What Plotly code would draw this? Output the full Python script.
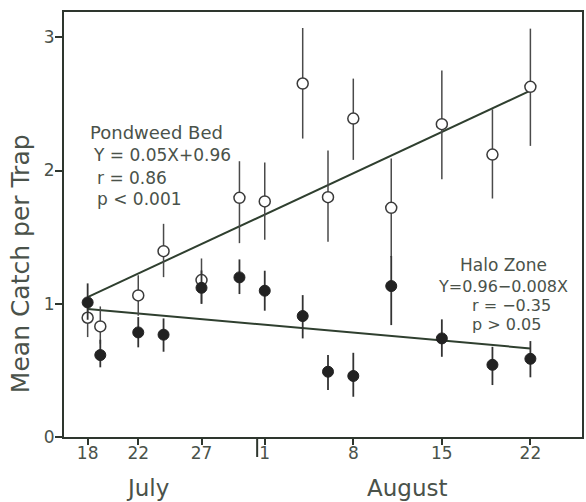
import plotly.graph_objects as go

# Days after 18 July
days = [0, 1, 4, 6, 9, 12, 14, 17, 19, 21, 24, 28, 32, 35]

# Pondweed Bed (open circles)
pond_mean = [0.895, 0.83, 1.063, 1.395, 1.178, 1.795, 1.768, 2.653, 1.80, 2.39, 1.72, 2.348, 2.12, 2.628]
pond_upper = [1.05, 0.98, 1.215, 1.60, 1.34, 2.07, 2.06, 3.07, 2.15, 2.69, 2.09, 2.75, 2.46, 3.065]
pond_lower = [0.75, 0.70, 0.91, 1.20, 1.00, 1.455, 1.48, 2.24, 1.465, 2.08, 1.35, 1.935, 1.79, 2.185]

# Halo Zone (filled circles)
halo_mean = [1.01, 0.615, 0.785, 0.768, 1.12, 1.198, 1.098, 0.908, 0.49, 0.458, 1.133, 0.74, 0.542, 0.587]
halo_upper = [1.153, 0.73, 0.90, 0.89, 1.25, 1.333, 1.248, 1.065, 0.615, 0.632, 1.358, 0.883, 0.677, 0.72]
halo_lower = [0.88, 0.523, 0.673, 0.64, 1.00, 1.073, 0.948, 0.74, 0.353, 0.302, 0.84, 0.602, 0.39, 0.448]

# Regression line endpoints
fit_x = [0, 35]
pond_fit = [1.05, 2.60]
halo_fit = [0.96, 0.665]

tick_vals = [0, 4, 9, 14, 21, 28, 35]
tick_text = ["18", "22", "27", "1", "8", "15", "22"]
month_break = 13.4

INK = "#2e362e"
TXT = "#4a524a"
FONT = "DejaVu Sans"

fig = go.Figure()

fig.add_trace(go.Scatter(
    x=fit_x, y=pond_fit, mode="lines",
    line=dict(color="#2f3f2f", width=2), showlegend=False, hoverinfo="skip"))
fig.add_trace(go.Scatter(
    x=fit_x, y=halo_fit, mode="lines",
    line=dict(color="#2f3f2f", width=2), showlegend=False, hoverinfo="skip"))

fig.add_trace(go.Scatter(
    x=days, y=pond_mean, mode="markers",
    marker=dict(symbol="circle", size=11, color="white", line=dict(color="#3a3a3a", width=1.5)),
    error_y=dict(type="data", symmetric=False,
                 array=[u - m for u, m in zip(pond_upper, pond_mean)],
                 arrayminus=[m - l for l, m in zip(pond_lower, pond_mean)],
                 color="#4a4a4a", thickness=1.5, width=0),
    showlegend=False))

fig.add_trace(go.Scatter(
    x=days, y=halo_mean, mode="markers",
    marker=dict(symbol="circle", size=11, color="#222222", line=dict(color="#222222", width=1)),
    error_y=dict(type="data", symmetric=False,
                 array=[u - m for u, m in zip(halo_upper, halo_mean)],
                 arrayminus=[m - l for l, m in zip(halo_lower, halo_mean)],
                 color="#333333", thickness=1.8, width=0),
    showlegend=False))

ann = []
def txt(x, y, s, xanchor="left", xref="x", yref="y", size=18, **kw):
    ann.append(dict(x=x, y=y, xref=xref, yref=yref, text=s, showarrow=False,
                    xanchor=xanchor, yanchor="middle",
                    font=dict(family=FONT, size=size, color=TXT), **kw))

txt(0.0, 2.288, "Pondweed Bed")
txt(0.3, 2.115, "Y = 0.05X+0.96", size=17)
txt(0.55, 1.943, "r = 0.86", size=17)
txt(0.55, 1.785, "p &lt; 0.001", size=17)

txt(32.85, 1.29, "Halo Zone", xanchor="center", size=17)
txt(32.8, 1.13, "Y=0.96\u22120.008X", xanchor="center", size=16)
txt(30.2, 0.985, "r = \u22120.35", size=16)
txt(30.2, 0.845, "p &gt; 0.05", size=16)

txt(0.1615, -0.12, "July", xanchor="center", xref="paper", yref="paper", size=23)
txt(0.663, -0.12, "August", xanchor="center", xref="paper", yref="paper", size=23)
txt(-0.085, 0.409, "Mean Catch per Trap", xanchor="center", xref="paper", yref="paper",
    size=25, textangle=-90)

fig.update_layout(
    width=586, height=502,
    margin=dict(l=64, r=2, t=12, b=65),
    plot_bgcolor="white", paper_bgcolor="white",
    annotations=ann,
    shapes=[dict(type="line", xref="x", yref="paper", x0=month_break, x1=month_break,
                 y0=0, y1=-0.047, line=dict(color=INK, width=2))],
    xaxis=dict(range=[-1.87, 39.08], tickvals=tick_vals, ticktext=tick_text,
               showgrid=False, zeroline=False, showline=True, mirror=True,
               linecolor=INK, linewidth=2, ticks="outside", ticklen=6,
               tickwidth=2, tickcolor=INK, ticklabelstandoff=-6,
               tickfont=dict(family=FONT, size=17, color=TXT)),
    yaxis=dict(range=[0, 3.19], tickvals=[0, 1, 2, 3],
               showgrid=False, zeroline=False, showline=True, mirror=True,
               linecolor=INK, linewidth=2, ticks="outside", ticklen=7,
               tickwidth=2, tickcolor=INK, ticklabelstandoff=-3,
               tickfont=dict(family=FONT, size=17, color=TXT)),
)

fig.write_html("out.html")
